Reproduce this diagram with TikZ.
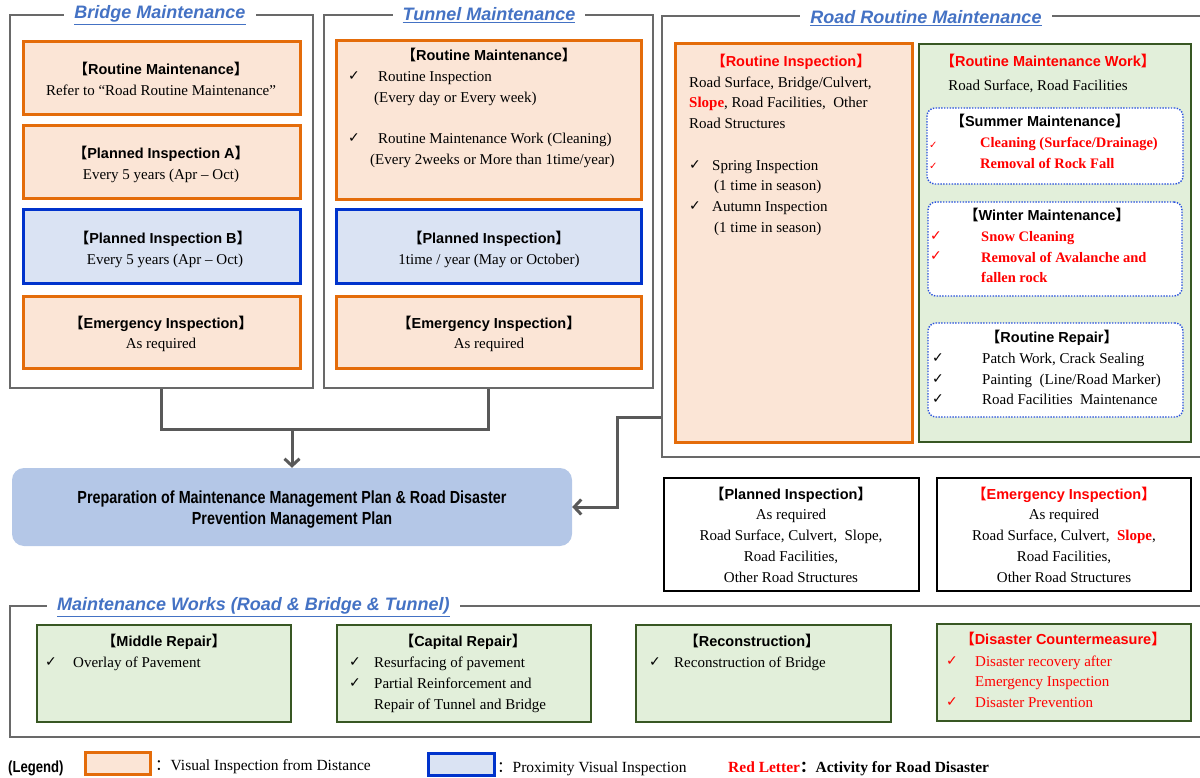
\documentclass[tikz,border=0pt]{standalone}
\usepackage{fontspec}
\setmainfont{Liberation Serif}
\newfontfamily\hfont{Liberation Sans}
\newfontfamily\nfont[FakeStretch=0.82]{Liberation Sans}
\newfontfamily\cjk{Noto Sans CJK SC}
\newfontfamily\sym{DejaVu Sans}
\usetikzlibrary{fit,arrows.meta}

\definecolor{framegray}{RGB}{105,105,105}
\definecolor{conngray}{RGB}{89,89,89}
\definecolor{orangeB}{RGB}{228,108,10}
\definecolor{orangeF}{RGB}{251,229,214}
\definecolor{blueB}{RGB}{0,51,204}
\definecolor{blueF}{RGB}{218,227,243}
\definecolor{greenB}{RGB}{56,87,35}
\definecolor{greenF}{RGB}{226,239,218}
\definecolor{dotblue}{RGB}{40,80,220}
\definecolor{titleblue}{RGB}{68,114,196}
\definecolor{planF}{RGB}{180,199,231}
\definecolor{redtxt}{RGB}{255,0,0}

% bracketed box heading
\newcommand\hb[1]{{\cjk 【}#1{\cjk 】}}
\newcommand\ck{{\sym\fontsize{14}{14}\selectfont ✓}}
\newcommand\cks{{\sym\fontsize{10}{10}\selectfont ✓}}
\newcommand\rs{\textcolor{redtxt}{\textbf{Slope}}}

\tikzset{
  every node/.style={inner sep=0pt},
  frm/.style={draw=framegray, line width=2pt, inner sep=0pt},
  obox/.style={draw=orangeB, fill=orangeF, line width=3pt, inner sep=0pt},
  bbox/.style={draw=blueB, fill=blueF, line width=3pt, inner sep=0pt},
  gbox/.style={draw=greenB, fill=greenF, line width=2.5pt, inner sep=0pt},
  kbox/.style={draw=black, line width=2pt, inner sep=0pt},
  dbox/.style={draw=dotblue, fill=white, line width=1.4pt, dash pattern=on 1.4pt off 1.4pt, rounded corners=8pt, inner sep=0pt},
  planbox/.style={fill=planF, rounded corners=12pt, inner sep=0pt},
  ttl/.style={fill=white, text=titleblue, font=\hfont\bfseries\itshape\fontsize{18}{20}\selectfont, inner xsep=10pt, inner ysep=2pt},
  tx/.style={font=\fontsize{15}{21}\selectfont, text height=12pt, text depth=1pt},
  rbx/.style={font=\bfseries\fontsize{14.5}{21}\selectfont, text=redtxt, text height=12pt, text depth=1pt},
  hd/.style={font=\hfont\bfseries\fontsize{14.5}{16}\selectfont, text height=12pt, text depth=1pt},
  rhd/.style={hd, text=redtxt},
  lgtx/.style={tx, font=\fontsize{15.5}{18}\selectfont},
  conn/.style={draw=conngray, line width=3pt},
  tip/.style={-{Straight Barb[length=7pt,width=15pt]}},
}

\begin{document}
\begin{tikzpicture}[x=1pt,y=-1pt]
\useasboundingbox (0,0) rectangle (1200,778);

% ---------- outer frames ----------
\node[frm, fit={(10,15) (313,388)}] (bfr) {};
\node[frm, fit={(324,15) (653,388)}] (tfr) {};
\node[frm, fit={(662,16) (1214,457)}] (rfr) {};
\node[frm, fit={(10,606) (1214,737)}] (wfr) {};

% ---------- bridge maintenance ----------
\node[obox, fit={(23,42) (300,115)}] (b1) {};
\node[hd] (b1h) at (161,69) {\hb{Routine Maintenance}};
\node[tx] (b1t) at (161,90) {Refer to “Road Routine Maintenance”};
\node[obox, fit={(23,126) (300,199)}] (b2) {};
\node[hd] (b2h) at (161,153) {\hb{Planned Inspection A}};
\node[tx] (b2t) at (161,174) {Every 5 years (Apr – Oct)};
\node[bbox, fit={(23,210) (300,284)}] (b3) {};
\node[hd] (b3h) at (163,238) {\hb{Planned Inspection B}};
\node[tx] (b3t) at (165,259) {Every 5 years (Apr – Oct)};
\node[obox, fit={(23,296) (300,368)}] (b4) {};
\node[hd] (b4h) at (161,323) {\hb{Emergency Inspection}};
\node[tx] (b4t) at (161,343) {As required};

% ---------- tunnel maintenance ----------
\node[obox, fit={(336,41) (641,200)}] (t1) {};
\node[hd] (t1h) at (489,55) {\hb{Routine Maintenance}};
\node[tx, anchor=west] (t1c1) at (348,75) {\ck};
\node[tx, anchor=west] (t1a) at (378,76) {Routine Inspection};
\node[tx, anchor=west] (t1b) at (374,97) {(Every day or Every week)};
\node[tx, anchor=west] (t1c2) at (348,137) {\ck};
\node[tx, anchor=west] (t1d) at (378,138) {Routine Maintenance Work (Cleaning)};
\node[tx, anchor=west] (t1e) at (370,159) {(Every 2weeks or More than 1time/year)};
\node[bbox, fit={(336,210) (641,284)}] (t2) {};
\node[hd] (t2h) at (489,238) {\hb{Planned Inspection}};
\node[tx] (t2t) at (489,259) {1time / year (May or October)};
\node[obox, fit={(336,296) (641,368)}] (t3) {};
\node[hd] (t3h) at (489,323) {\hb{Emergency Inspection}};
\node[tx] (t3t) at (489,343) {As required};

% ---------- road routine maintenance ----------
\node[obox, fit={(675,44) (912,442)}] (ri) {};
\node[rhd] (rih) at (791,61) {\hb{Routine Inspection}};
\node[tx, anchor=west] (ri1) at (689,82) {Road Surface, Bridge/Culvert,};
\node[tx, anchor=west] (ri2) at (689,102) {\rs, Road Facilities,~ Other};
\node[tx, anchor=west] (ri3) at (689,123) {Road Structures};
\node[tx, anchor=west] (ric1) at (689,164) {\ck};
\node[tx, anchor=west] (ri4) at (712,165) {Spring Inspection};
\node[tx, anchor=west] (ri5) at (714,185) {(1 time in season)};
\node[tx, anchor=west] (ric2) at (689,205) {\ck};
\node[tx, anchor=west] (ri6) at (712,206) {Autumn Inspection};
\node[tx, anchor=west] (ri7) at (714,227) {(1 time in season)};

\node[gbox, fit={(919,44) (1191,442)}] (rw) {};
\node[rhd] (rwh) at (1048,61) {\hb{Routine Maintenance Work}};
\node[tx] (rwt) at (1038,85) {Road Surface, Road Facilities};

\node[dbox, fit={(927,108) (1183,184)}] (sm) {};
\node[hd] (smh) at (1040,121) {\hb{Summer Maintenance}};
\node[tx, anchor=west, text=redtxt] (smc1) at (929,143) {\cks};
\node[rbx, anchor=west] (sm1) at (980,142) {Cleaning (Surface/Drainage)};
\node[tx, anchor=west, text=redtxt] (smc2) at (929,164) {\cks};
\node[rbx, anchor=west] (sm2) at (980,163) {Removal of Rock Fall};

\node[dbox, fit={(928,202) (1182,296)}] (wm) {};
\node[hd] (wmh) at (1047,215) {\hb{Winter Maintenance}};
\node[tx, anchor=west, text=redtxt] (wmc1) at (930,235) {\ck};
\node[rbx, anchor=west] (wm1) at (981,236) {Snow Cleaning};
\node[tx, anchor=west, text=redtxt] (wmc2) at (930,255) {\ck};
\node[rbx, anchor=west] (wm2) at (981,257) {Removal of Avalanche and};
\node[rbx, anchor=west] (wm3) at (981,277) {fallen rock};

\node[dbox, fit={(928,323) (1183,417)}] (rr) {};
\node[hd] (rrh) at (1052,337) {\hb{Routine Repair}};
\node[tx, anchor=west] (rrc1) at (932,357) {\ck};
\node[tx, anchor=west] (rr1) at (982,358) {Patch Work, Crack Sealing};
\node[tx, anchor=west] (rrc2) at (932,378) {\ck};
\node[tx, anchor=west] (rr2) at (982,379) {Painting~ (Line/Road Marker)};
\node[tx, anchor=west] (rrc3) at (932,398) {\ck};
\node[tx, anchor=west] (rr3) at (982,399) {Road Facilities~ Maintenance};

% ---------- planning box ----------
\node[planbox, fit={(12,468) (572,546)}] (plan) {};
\node[font=\nfont\bfseries\fontsize{17.5}{21}\selectfont, align=center] (plant) at (292,510)
  {Preparation of Maintenance Management Plan \& Road Disaster\\Prevention Management Plan};

% ---------- road inspections ----------
\node[kbox, fit={(664,478) (919,591)}] (pi) {};
\node[hd] (pih) at (791,494) {\hb{Planned Inspection}};
\node[tx] (pi1) at (791,514) {As required};
\node[tx] (pi2) at (791,535) {Road Surface, Culvert,~ Slope,};
\node[tx] (pi3) at (791,556) {Road Facilities,};
\node[tx] (pi4) at (791,577) {Other Road Structures};

\node[kbox, fit={(937,478) (1191,591)}] (ei) {};
\node[rhd] (eih) at (1064,494) {\hb{Emergency Inspection}};
\node[tx] (ei1) at (1064,514) {As required};
\node[tx] (ei2) at (1064,535) {Road Surface, Culvert,~ \rs,};
\node[tx] (ei3) at (1064,556) {Road Facilities,};
\node[tx] (ei4) at (1064,577) {Other Road Structures};

% ---------- maintenance works ----------
\node[gbox, fit={(37,625) (291,722)}] (mr) {};
\node[hd] (mrh) at (164,641) {\hb{Middle Repair}};
\node[tx, anchor=west] (mrc) at (45,661) {\ck};
\node[tx, anchor=west] (mr1) at (73,662) {Overlay of Pavement};

\node[gbox, fit={(337,625) (591,722)}] (cr) {};
\node[hd] (crh) at (463,641) {\hb{Capital Repair}};
\node[tx, anchor=west] (crc1) at (349,661) {\ck};
\node[tx, anchor=west] (cr1) at (374,662) {Resurfacing of pavement};
\node[tx, anchor=west] (crc2) at (349,682) {\ck};
\node[tx, anchor=west] (cr2) at (374,683) {Partial Reinforcement and};
\node[tx, anchor=west] (cr3) at (374,704) {Repair of Tunnel and Bridge};

\node[gbox, fit={(636,625) (891,722)}] (rc) {};
\node[hd] (rch) at (752,641) {\hb{Reconstruction}};
\node[tx, anchor=west] (rcc) at (649,661) {\ck};
\node[tx, anchor=west] (rc1) at (674,662) {Reconstruction of Bridge};

\node[gbox, fit={(937,624) (1191,721)}] (dc) {};
\node[rhd] (dch) at (1063,639) {\hb{Disaster Countermeasure}};
\node[tx, anchor=west, text=redtxt] (dcc1) at (946,660) {\ck};
\node[tx, anchor=west, text=redtxt] (dc1) at (975,661) {Disaster recovery after};
\node[tx, anchor=west, text=redtxt] (dc2) at (975,681) {Emergency Inspection};
\node[tx, anchor=west, text=redtxt] (dcc2) at (946,701) {\ck};
\node[tx, anchor=west, text=redtxt] (dc3) at (975,702) {Disaster Prevention};

% ---------- frame titles ----------
\node[ttl] (bti) at (160,15) {\underline{Bridge Maintenance}};
\node[ttl] (tti) at (489,15) {\underline{Tunnel Maintenance}};
\node[ttl] (rti) at (926,18) {\underline{Road Routine Maintenance}};
\node[ttl, anchor=west] (wti) at (47,607) {\underline{Maintenance Works (Road \& Bridge \& Tunnel)}};

% ---------- connectors ----------
\coordinate (jn) at (292,429);
\coordinate (ry) at (0,417);
\coordinate (rx) at (617,0);
\draw[conn] (bfr.south) |- (tfr.south |- jn) -- (tfr.south);
\draw[conn, tip] (jn) -- (plan.north);
\draw[conn, tip] (rfr.west |- ry) -| (rx |- plan.east) -- (plan.east);

% ---------- legend ----------
\node[font=\nfont\bfseries\fontsize{16}{18}\selectfont, anchor=west, text height=12pt, text depth=1pt] (lgt) at (8,767) {(Legend)};
\node[obox, fit={(85,752) (150,774)}] (lg1) {};
\node[lgtx, anchor=west] (lg1t) at (155,765) {{\cjk ：}Visual Inspection from Distance};
\node[bbox, fit={(428,753) (494,775)}] (lg2) {};
\node[lgtx, anchor=west] (lg2t) at (497,767) {{\cjk ：}Proximity Visual Inspection};
\node[lgtx, anchor=west, font=\bfseries\fontsize{15.5}{18}\selectfont] (lg3t) at (728,767) {\textcolor{redtxt}{Red Letter}{\cjk ：}Activity for Road Disaster};
\end{tikzpicture}
\end{document}
